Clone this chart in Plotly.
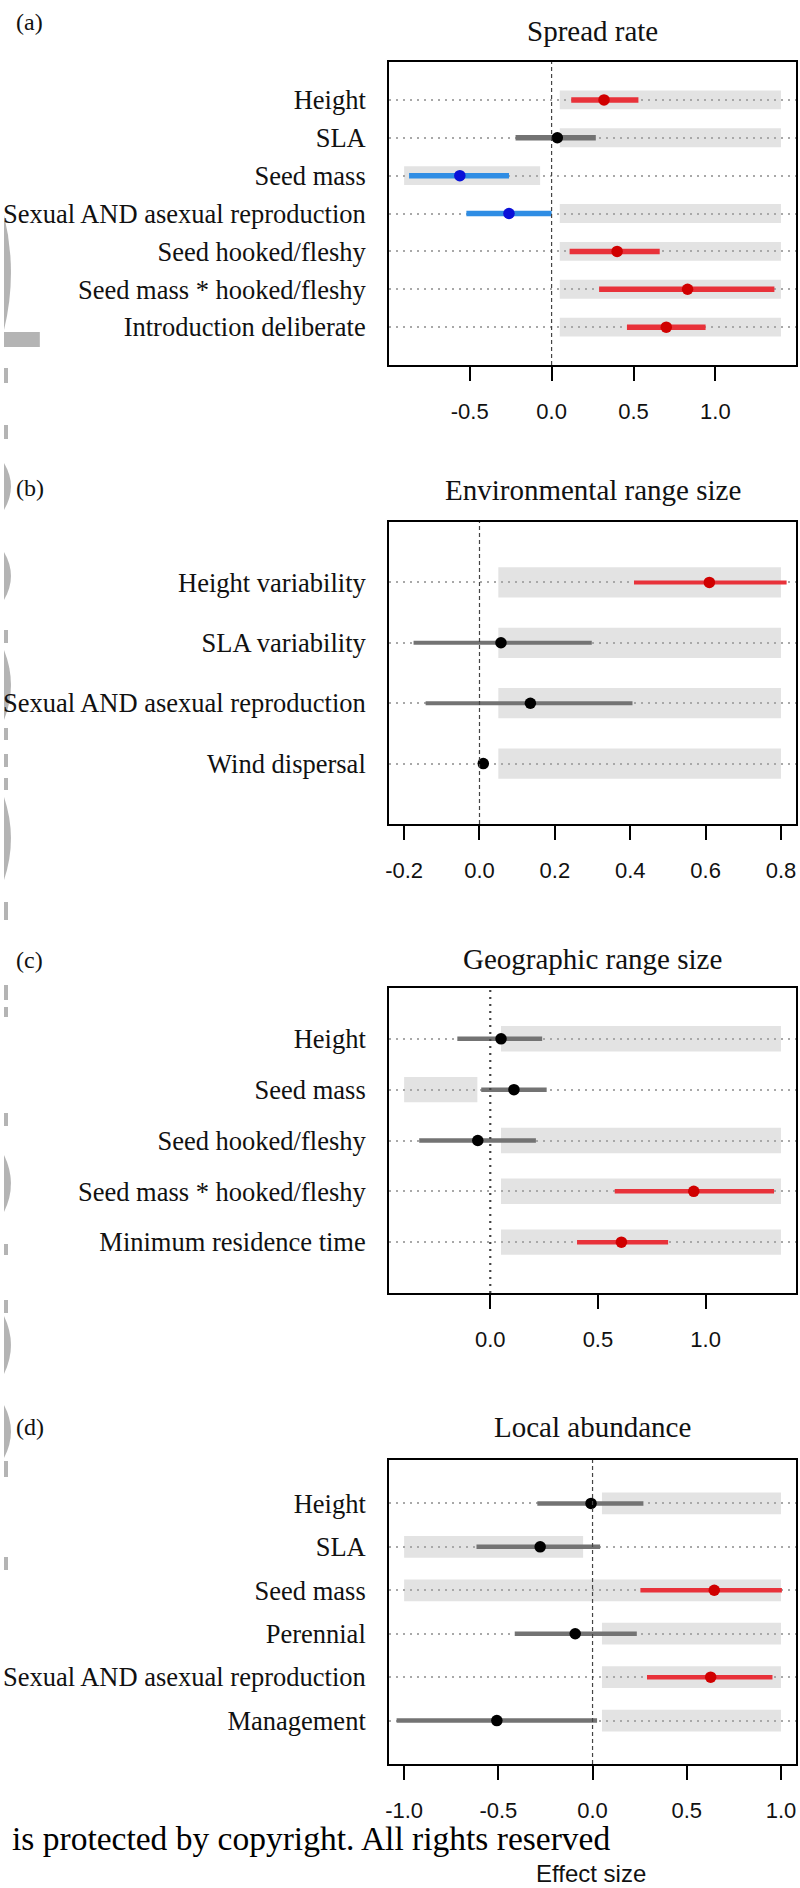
import plotly.graph_objects as go

W, H = 800, 1888

# ---------------- data ----------------
titles = ["Spread rate", "Environmental range size", "Geographic range size", "Local abundance"]
letters = ["(a)", "(b)", "(c)", "(d)"]

labels_a = ["Height", "SLA", "Seed mass", "Sexual AND asexual reproduction",
            "Seed hooked/fleshy", "Seed mass * hooked/fleshy", "Introduction deliberate"]
est_a = [0.32, 0.035, -0.56, -0.26, 0.40, 0.83, 0.70]
lo_a = [0.12, -0.22, -0.87, -0.52, 0.11, 0.29, 0.46]
hi_a = [0.53, 0.27, -0.26, 0.0, 0.66, 1.36, 0.94]
sig_a = ["pos", "ns", "neg", "neg", "pos", "pos", "pos"]
band_lo_a = [0.05, 0.05, -0.9, 0.05, 0.05, 0.05, 0.05]
band_hi_a = [1.4, 1.4, -0.07, 1.4, 1.4, 1.4, 1.4]
xlim_a = [-0.9, 1.4]
ticks_a = [-0.5, 0.0, 0.5, 1.0]
ticklab_a = ["-0.5", "0.0", "0.5", "1.0"]

labels_b = ["Height variability", "SLA variability", "Sexual AND asexual reproduction", "Wind dispersal"]
est_b = [0.61, 0.057, 0.135, 0.01]
lo_b = [0.41, -0.175, -0.143, 0.003]
hi_b = [0.815, 0.298, 0.406, 0.017]
sig_b = ["pos", "ns", "ns", "ns"]
band_lo_b = [0.05, 0.05, 0.05, 0.05]
band_hi_b = [0.8, 0.8, 0.8, 0.8]
xlim_b = [-0.2, 0.8]
ticks_b = [-0.2, 0.0, 0.2, 0.4, 0.6, 0.8]
ticklab_b = ["-0.2", "0.0", "0.2", "0.4", "0.6", "0.8"]

labels_c = ["Height", "Seed mass", "Seed hooked/fleshy", "Seed mass * hooked/fleshy", "Minimum residence time"]
est_c = [0.05, 0.11, -0.058, 0.945, 0.609]
lo_c = [-0.153, -0.042, -0.33, 0.578, 0.403]
hi_c = [0.241, 0.262, 0.212, 1.318, 0.826]
sig_c = ["ns", "ns", "ns", "pos", "pos"]
band_lo_c = [0.05, -0.4, 0.05, 0.05, 0.05]
band_hi_c = [1.35, -0.06, 1.35, 1.35, 1.35]
xlim_c = [-0.4, 1.35]
ticks_c = [0.0, 0.5, 1.0]
ticklab_c = ["0.0", "0.5", "1.0"]

labels_d = ["Height", "SLA", "Seed mass", "Perennial", "Sexual AND asexual reproduction", "Management"]
est_d = [-0.008, -0.278, 0.646, -0.092, 0.627, -0.508]
lo_d = [-0.293, -0.616, 0.254, -0.413, 0.289, -1.04]
hi_d = [0.27, 0.04, 1.005, 0.235, 0.955, 0.024]
sig_d = ["ns", "ns", "pos", "ns", "pos", "ns"]
band_lo_d = [0.05, -1.0, -1.0, 0.05, 0.05, 0.05]
band_hi_d = [1.0, -0.05, 1.0, 1.0, 1.0, 1.0]
xlim_d = [-1.0, 1.0]
ticks_d = [-1.0, -0.5, 0.0, 0.5, 1.0]
ticklab_d = ["-1.0", "-0.5", "0.0", "0.5", "1.0"]

# ---------------- style ----------------
line_col = {"pos": "#e8323a", "neg": "#2f8de4", "ns": "#737373"}
pt_col = {"pos": "#d00000", "neg": "#0a10d8", "ns": "#000000"}
band_col = "#e3e3e3"
grid_col = "#a8a8a8"

box_left, box_right = 387, 796
boxes = [(62, 365), (522, 824), (988, 1293), (1460, 1764)]
zero_dash = ["4px,3px", "4px,3px", "2px,5px", "4px,3px"]
zero_w = [1.2, 1.2, 2.2, 1.2]
ci_w = [5.5, 4, 4.5, 4.5]

panels = [
    (labels_a, est_a, lo_a, hi_a, sig_a, band_lo_a, band_hi_a, xlim_a, ticks_a, ticklab_a),
    (labels_b, est_b, lo_b, hi_b, sig_b, band_lo_b, band_hi_b, xlim_b, ticks_b, ticklab_b),
    (labels_c, est_c, lo_c, hi_c, sig_c, band_lo_c, band_hi_c, xlim_c, ticks_c, ticklab_c),
    (labels_d, est_d, lo_d, hi_d, sig_d, band_lo_d, band_hi_d, xlim_d, ticks_d, ticklab_d),
]

fig = go.Figure()
shapes = []
annotations = []
layout = {}

def px_x(p):
    return p / W

def px_y(p):
    return 1 - p / H

for i, (labs, est, lo, hi, sig, blo, bhi, xlim, tks, tkl) in enumerate(panels):
    k = "" if i == 0 else str(i + 1)
    xa, ya = "x" + k, "y" + k
    n = len(labs)
    rows = list(range(1, n + 1))
    ext = (xlim[1] - xlim[0]) * 0.04
    xr = [xlim[0] - ext, xlim[1] + ext]
    top, bot = boxes[i]

    for r, a, b in zip(rows, blo, bhi):
        shapes.append(dict(type="rect", xref=xa, yref=ya, x0=a, x1=b, y0=r - 0.25, y1=r + 0.25,
                           fillcolor=band_col, line=dict(width=0), layer="below"))
    shapes.append(dict(type="line", xref=xa, yref=ya + " domain", x0=0, x1=0, y0=0, y1=1,
                       line=dict(color="#444444", width=zero_w[i], dash=zero_dash[i]), layer="above"))

    for cat in ["ns", "neg", "pos"]:
        idx = [j for j in range(n) if sig[j] == cat]
        if not idx:
            continue
        fig.add_trace(go.Scatter(
            x=[est[j] for j in idx], y=[rows[j] for j in idx],
            mode="markers", xaxis=xa, yaxis=ya, showlegend=False,
            marker=dict(size=11.5, color=pt_col[cat], line=dict(width=0)),
            error_x=dict(type="data", symmetric=False,
                         array=[hi[j] - est[j] for j in idx],
                         arrayminus=[est[j] - lo[j] for j in idx],
                         color=line_col[cat], thickness=ci_w[i], width=0),
        ))

    layout["xaxis" + k] = dict(
        domain=[px_x(box_left), px_x(box_right)], anchor=ya, range=xr,
        tickvals=tks, ticktext=tkl, ticks="outside", ticklen=14, tickwidth=2, tickcolor="black",
        showline=True, mirror=True, linecolor="black", linewidth=2,
        showgrid=False, zeroline=False, ticklabelstandoff=12,
        tickfont=dict(family="Liberation Sans, Arial", size=22, color="#111111"),
    )
    layout["yaxis" + k] = dict(
        domain=[px_y(bot), px_y(top)], anchor=xa, range=[n + 1, 0],
        tickvals=rows, ticktext=labs, ticks="", ticklen=0,
        showline=True, mirror=True, linecolor="black", linewidth=2,
        showgrid=True, gridcolor=grid_col, griddash="2px,5px", gridwidth=1.6,
        zeroline=False, ticklabelstandoff=16,
        tickfont=dict(family="Liberation Serif, Times New Roman", size=26.5, color="#111111"),
    )

    title_y = [31, 490, 959, 1427][i]
    annotations.append(dict(text=titles[i], xref="paper", yref="paper",
                            x=px_x((box_left + box_right) / 2), y=px_y(title_y),
                            xanchor="center", yanchor="middle", showarrow=False,
                            font=dict(family="Liberation Serif, Times New Roman", size=29, color="#111111")))
    annotations.append(dict(text=letters[i], xref="paper", yref="paper",
                            x=px_x(10), y=px_y([22, 488, 960, 1427][i]),
                            xanchor="left", yanchor="middle", showarrow=False,
                            font=dict(family="Liberation Serif, Times New Roman", size=24, color="#111111")))

annotations.append(dict(text="is protected by copyright. All rights reserved", xref="paper", yref="paper",
                        x=px_x(6), y=px_y(1838), xanchor="left", yanchor="middle", showarrow=False,
                        font=dict(family="Liberation Serif, Times New Roman", size=33.5, color="#000000")))
annotations.append(dict(text="Effect size", xref="paper", yref="paper",
                        x=px_x(590), y=px_y(1873), xanchor="center", yanchor="middle", showarrow=False,
                        font=dict(family="Liberation Sans, Arial", size=24, color="#111111")))

# faint watermark fragments at the left edge
wm_col = "#b4b4b4"
crescents = [(215, 330), (463, 510), (552, 600), (650, 720), (797, 880), (1155, 1212), (1316, 1374), (1405, 1458)]
for t, b in crescents:
    w = 7
    path = "M 0,{:.5f} Q {:.5f},{:.5f} 0,{:.5f} Z".format(px_y(t), px_x(2 * w), px_y((t + b) / 2), px_y(b))
    shapes.append(dict(type="path", xref="paper", yref="paper", path=path,
                       fillcolor=wm_col, line=dict(width=0), layer="below"))
shapes.append(dict(type="rect", xref="paper", yref="paper", x0=0, x1=px_x(36), y0=px_y(347), y1=px_y(332),
                   fillcolor=wm_col, line=dict(width=0), layer="below"))
dashes = [(368, 383), (425, 439), (630, 643), (728, 740), (754, 767), (778, 790), (902, 920), (985, 1000),
          (1007, 1017), (1113, 1126), (1244, 1255), (1300, 1313), (1461, 1477), (1557, 1570)]
for t, b in dashes:
    shapes.append(dict(type="rect", xref="paper", yref="paper", x0=0, x1=px_x(4), y0=px_y(b), y1=px_y(t),
                       fillcolor=wm_col, line=dict(width=0), layer="below"))

fig.update_layout(
    width=W, height=H, margin=dict(l=0, r=0, t=0, b=0),
    paper_bgcolor="white", plot_bgcolor="white",
    shapes=shapes, annotations=annotations, showlegend=False,
    **layout,
)

fig.write_html("out.html")
